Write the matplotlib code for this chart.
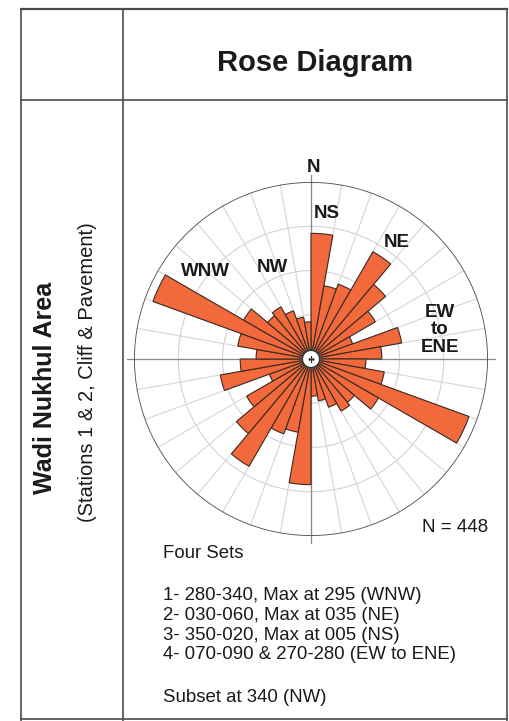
import numpy as np
import matplotlib.pyplot as plt
from matplotlib.lines import Line2D

plt.rcParams['font.family'] = ['Liberation Sans', 'DejaVu Sans']

# 10-degree strike bins (0-180), mirrored to the opposite quadrant
bin_starts = [0, 10, 20, 30, 40, 50, 60, 70, 80, 90, 100, 110, 120, 130, 140, 150, 160, 170]
# bar length as % of the outer ring
bin_lengths = [71, 42, 45, 70, 55, 42, 25, 52, 40, 31, 42, 95, 44, 32, 34, 29, 24, 21]

set_labels = ["NS", "NE", "WNW", "NW"]
set_lines = [
    "1- 280-340, Max at 295 (WNW)",
    "2- 030-060, Max at 035 (NE)",
    "3- 350-020, Max at 005 (NS)",
    "4- 070-090 & 270-280 (EW to ENE)",
]
n_total = 448

W, H = 510, 721
BAR_COLOR = '#F26A3C'
EDGE = '#3b2a22'
FRAME = '#4a4a4a'


def fx(x):
    return x / W


def fy(y):
    return 1 - y / H


fig = plt.figure(figsize=(W / 100, H / 100), dpi=100)

# table frame
frame = [
    ((21, 507), (9, 9), 1.6),
    ((21, 507), (100, 100), 1.2),
    ((21, 507), (719, 719), 1.2),
    ((21, 21), (9, 721), 1.2),
    ((123, 123), (9, 721), 1.2),
    ((507, 507), (9, 721), 1.2),
]
for xs, ys, lw in frame:
    fig.add_artist(Line2D([fx(x) for x in xs], [fy(y) for y in ys],
                          color=FRAME, lw=lw))

fig.text(fx(315), fy(63), "Rose Diagram", ha='center', va='center',
         fontsize=21, fontweight='bold', color='#1a1a1a')
fig.text(fx(45), fy(388), "Wadi Nukhul Area", ha='center', va='center',
         rotation=90, fontsize=18, fontweight='bold', color='#1a1a1a')
fig.text(fx(88), fy(372), "(Stations 1 & 2, Cliff & Pavement)", ha='center',
         va='center', rotation=90, fontsize=14.5, color='#1a1a1a')

# rose diagram
cx, cy, R = 311, 359, 177
ax = fig.add_axes([fx(cx - R), fy(cy + R), 2 * R / W, 2 * R / H], projection='polar')
ax.set_theta_zero_location('N')
ax.set_theta_direction(-1)
ax.set_ylim(0, 100)
ax.axis('off')

t = np.linspace(0, 2 * np.pi, 721)
for r in [25, 50, 75]:
    ax.plot(t, np.full_like(t, r), color='#d2d2d2', lw=0.8, zorder=1)
for a in range(0, 360, 10):
    ax.plot([np.deg2rad(a)] * 2, [0, 100], color='#d6d6d6', lw=0.8, zorder=1)
for a in [0, 90, 180, 270]:
    ax.plot([np.deg2rad(a)] * 2, [0, 104], color='#8a8a8a', lw=0.9, zorder=2,
            clip_on=False)
ax.plot(t, np.full_like(t, 100), color='#555555', lw=1.3, zorder=4)

hole = 5
starts = np.array(bin_starts + [b + 180 for b in bin_starts])
lengths = np.array(bin_lengths + bin_lengths)
ax.bar(np.deg2rad(starts + 5), lengths - hole, width=np.deg2rad(10), bottom=hole,
       color=BAR_COLOR, edgecolor=EDGE, linewidth=0.8, zorder=3)

ax.fill(t, np.full_like(t, hole), color='white', zorder=5)
ax.plot(t, np.full_like(t, hole), color='#333333', lw=1.3, zorder=6)
ax.plot(0, 0, marker='+', color='#333333', ms=4, mew=1, zorder=7)

lab = dict(ha='center', va='center', fontsize=13.5, fontweight='bold', color='#1a1a1a')
fig.text(fx(313), fy(167), "N", **lab)
fig.text(fx(327), fy(213), set_labels[0], **lab)
fig.text(fx(397), fy(242), set_labels[1], **lab)
fig.text(fx(205), fy(271), set_labels[2], **lab)
fig.text(fx(272), fy(267), set_labels[3], **lab)
fig.text(fx(440), fy(330), "EW\nto\nENE", linespacing=1.05, **lab)

fig.text(fx(488), fy(528), f"N = {n_total}", ha='right', va='center',
         fontsize=13.5, color='#1a1a1a')

txt = dict(ha='left', va='center', fontsize=13.4, color='#1a1a1a')
fig.text(fx(163), fy(553), "Four Sets", **txt)
for i, line in enumerate(set_lines):
    fig.text(fx(163), fy(596 + 19.6 * i), line, **txt)
fig.text(fx(163), fy(697), "Subset at 340 (NW)", **txt)

fig.savefig("out.png", dpi=100)
